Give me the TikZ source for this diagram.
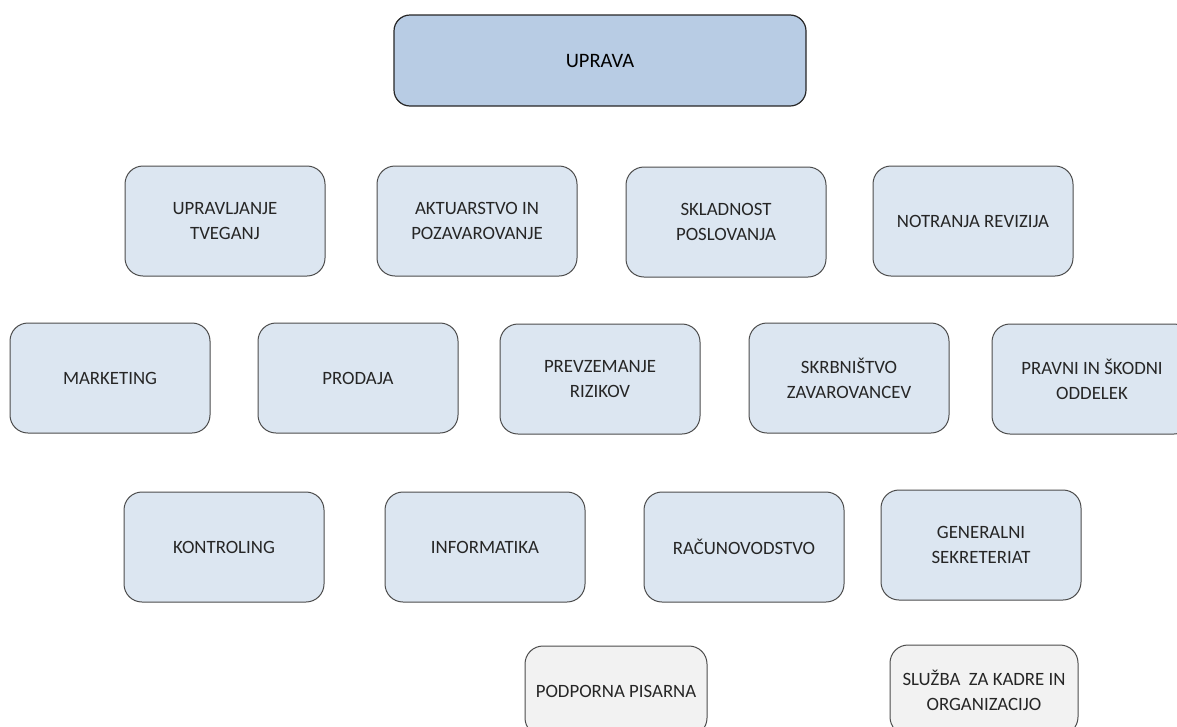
\documentclass[tikz,border=0pt]{standalone}
\usepackage{fontspec}
\setmainfont{Carlito}
\begin{document}
\begin{tikzpicture}[x=1pt,y=-1pt,
  box/.style={draw=black!70, line width=1pt, rounded corners=18pt, fill=boxfill, align=center,
    minimum width=200pt, minimum height=110pt, inner sep=0pt, text=black!85,
    font=\fontsize{18.8}{25}\selectfont},
  topbox/.style={box, fill=topfill, draw=black!85, line width=1.2pt, rounded corners=16pt,
    minimum width=412pt, minimum height=91pt, font=\fontsize{20.5}{25}\selectfont, text=black},
  subbox/.style={box, fill=subfill, minimum width=182pt, minimum height=90pt}]
\definecolor{boxfill}{HTML}{DCE6F1}
\definecolor{topfill}{HTML}{B8CCE4}
\definecolor{subfill}{HTML}{F2F2F2}
\useasboundingbox (0,0) rectangle (1177,726);
\clip (0,0) rectangle (1177,726);
\node[topbox] (uprava) at (600,60.5) {UPRAVA};
% row 1
\node[box] (tveg) at (225,221) {UPRAVLJANJE\\TVEGANJ};
\node[box] (akt) at (477,221) {AKTUARSTVO IN\\POZAVAROVANJE};
\node[box] (skl) at (726,222) {SKLADNOST\\POSLOVANJA};
\node[box] (rev) at (973,221) {NOTRANJA REVIZIJA};
% row 2
\node[box] (mark) at (110,378) {MARKETING};
\node[box] (prod) at (358,378) {PRODAJA};
\node[box] (prev) at (600,379) {PREVZEMANJE\\RIZIKOV};
\node[box] (skrb) at (849,378) {SKRBNIŠTVO\\ZAVAROVANCEV};
\node[box] (prav) at (1092,379) {PRAVNI IN ŠKODNI\\ODDELEK};
% row 3
\node[box] (kont) at (224,547) {KONTROLING};
\node[box] (inf) at (485,547) {INFORMATIKA};
\node[box] (rac) at (744,547) {RAČUNOVODSTVO};
\node[box] (gen) at (981,545) {GENERALNI\\SEKRETERIAT};
% row 4
\node[subbox] (pis) at (616,691) {PODPORNA PISARNA};
\node[subbox, minimum width=188pt] (kadr) at (984,690) {SLUŽBA\ \ ZA KADRE IN\\ORGANIZACIJO};
\end{tikzpicture}
\end{document}
